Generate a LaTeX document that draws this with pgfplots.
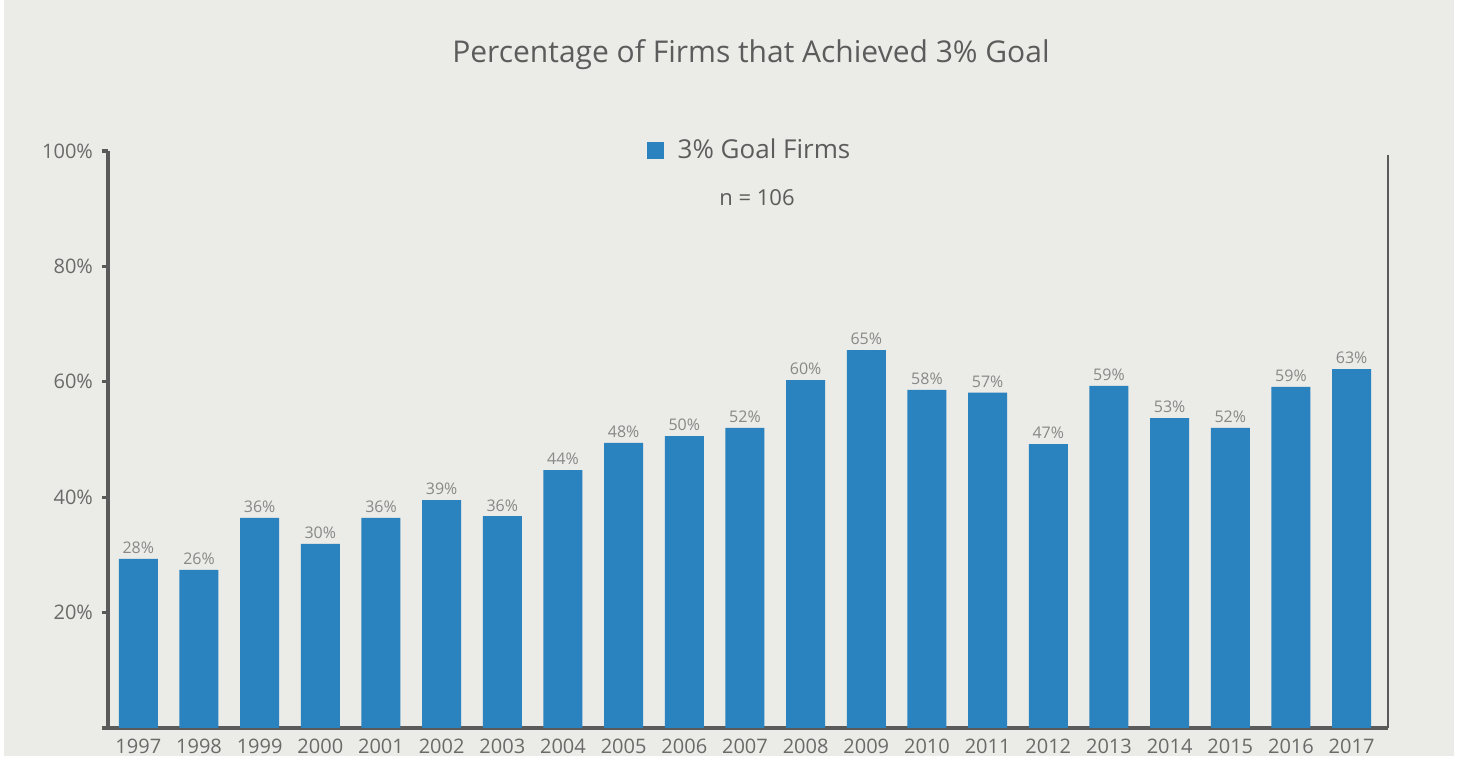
\documentclass[border=0pt]{standalone}
\usepackage{pgfplots}
\pgfplotsset{compat=1.18}
\usepackage{pgfplotstable}
\usepackage{fontspec}
\setmainfont{Open Sans}
\definecolor{bgc}{HTML}{EBEBE7}
\definecolor{barc}{HTML}{2A82BE}
\definecolor{axc}{HTML}{5A5A5A}
\definecolor{titc}{HTML}{5C5C5C}
\definecolor{tickc}{HTML}{6A6A6A}
\definecolor{labc}{HTML}{888888}
\pgfplotstableread{
x y lab
0 29.3 28
1 27.4 26
2 36.4 36
3 31.9 30
4 36.4 36
5 39.5 39
6 36.7 36
7 44.7 44
8 49.4 48
9 50.6 50
10 52.0 52
11 60.3 60
12 65.5 65
13 58.6 58
14 58.1 57
15 49.2 47
16 59.3 59
17 53.7 53
18 52.0 52
19 59.1 59
20 62.2 63
}\datatable
\begin{document}
\begin{tikzpicture}[x=1pt,y=1pt]
\fill[white] (0,0) rectangle (731,381.5);
\fill[bgc] (2,3.5) rectangle (727,381.5);
\node[font=\fontsize{15}{18}\selectfont, text=titc, anchor=center] at (375.5,354) {Percentage of Firms that Achieved 3\% Goal};
\begin{axis}[
  at={(54pt,17.5pt)}, anchor=south west,
  width=640pt, height=288.5pt, scale only axis,
  xmin=-0.5, xmax=20.6, ymin=0, ymax=100,
  axis x line*=bottom, axis y line*=left,
  axis line style={axc, line width=1.6pt},
  xtick={0,...,20},
  xticklabels={1997,1998,1999,2000,2001,2002,2003,2004,2005,2006,2007,2008,2009,2010,2011,2012,2013,2014,2015,2016,2017},
  x tick style={draw=none},
  ytick={0,20,40,60,80,100},
  yticklabels={,20\%,40\%,60\%,80\%,100\%},
  y tick style={axc, line width=1.6pt},
  major tick length=3pt, tick align=outside,
  /pgf/number format/assume math mode=true,
  ticklabel style={font=\fontsize{10}{12}\selectfont, text=tickc},
  xticklabel style={yshift=1pt},
  yticklabel style={xshift=-1pt},
  axis background/.style={fill=none},
  legend style={draw=none, fill=none, at={(0.502,1.0017)}, anchor=center,
    font=\fontsize{13}{15}\selectfont, text=titc},
  legend image code/.code={\fill[barc] (0pt,-4.25pt) rectangle (8.5pt,4.25pt);},
  clip=false,
]
\addplot[ybar, bar width=19.5pt, fill=barc, draw=none,
  point meta=explicit symbolic,
  nodes near coords={\pgfplotspointmeta\%},
  nodes near coords style={font=\fontsize{8}{10}\selectfont, text=labc, anchor=south, yshift=-1pt}]
  table[x=x, y=y, meta=lab]{\datatable};
\addlegendentry{\hspace{5pt}3\% Goal Firms}
\draw[axc, line width=1.1pt] (rel axis cs:1,0) -- (rel axis cs:1,0.993);
\node[font=\fontsize{11}{13}\selectfont, text=titc] at (rel axis cs:0.507,0.920) {n = 106};
\end{axis}
\end{tikzpicture}
\end{document}
